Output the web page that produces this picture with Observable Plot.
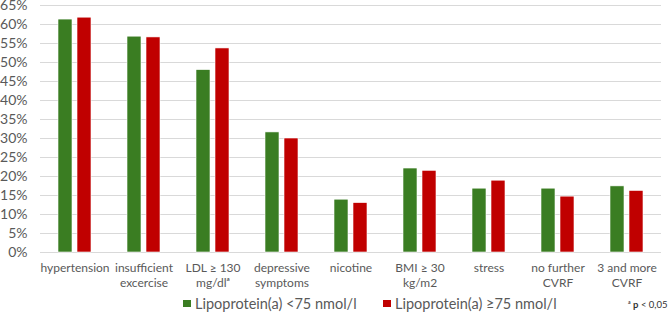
<!DOCTYPE html>
<html>
<head>
<meta charset="utf-8">
<script src="https://cdn.jsdelivr.net/npm/d3@7"></script>
<script src="https://cdn.jsdelivr.net/npm/@observablehq/plot@0.6"></script>
<style>
  html, body { margin: 0; padding: 0; background: #fff; }
  body { width: 669px; height: 312px; overflow: hidden; font-family: Lato, "Open Sans", sans-serif; }
  #chart svg { display: block; overflow: visible; }
  #legend { position: relative; height: 20px; font-size: 14.5px; color: #595959; }
  .item { position: absolute; top: 3px; display: flex; align-items: center; white-space: nowrap; }
  .sw { width: 8px; height: 7px; margin-right: 4px; }
  #note { position: absolute; left: 628px; top: 7px; font-size: 9.5px; color: #333; white-space: nowrap; }
</style>
</head>
<body>
<div id="chart"></div>
<div id="legend"></div>
<script>
const categories = ["hypertension", "insufficient excercise", "LDL ≥ 130 mg/dlᵃ", "depressive symptoms", "nicotine", "BMI ≥ 30 kg/m2", "stress", "no further CVRF", "3 and more CVRF"];
const categoryLabels = ["hypertension", "insufficient\nexcercise", "LDL ≥ 130\nmg/dlᵃ", "depressive\nsymptoms", "nicotine", "BMI ≥ 30\nkg/m2", "stress", "no further\nCVRF", "3 and more\nCVRF"];
const seriesNames = ["Lipoprotein(a) <75 nmol/l", "Lipoprotein(a) ≥75 nmol/l"];
const lowValues  = [61.3, 56.8, 48.0, 31.6, 13.9, 22.1, 16.8, 16.8, 17.4];
const highValues = [61.8, 56.6, 53.7, 30.0, 13.0, 21.5, 18.9, 14.7, 16.2];
const yTicks = d3.range(0, 66, 5);
const colors = ["#3a7d22", "#c00000"];

const data = [];
categories.forEach((c, i) => {
  data.push({category: c, series: seriesNames[0], value: lowValues[i]});
  data.push({category: c, series: seriesNames[1], value: highValues[i]});
});
const labelOf = new Map(categories.map((c, i) => [c, categoryLabels[i]]));

const plot = Plot.plot({
  width: 669,
  height: 292,
  marginTop: 5,
  marginLeft: 38,
  marginRight: 7,
  marginBottom: 40,
  style: {fontFamily: "Lato, 'Open Sans', sans-serif", fontSize: "12px", color: "#595959", background: "#fff", overflow: "visible"},
  fx: {domain: categories, padding: 0, label: null},
  x: {domain: seriesNames, paddingInner: 0.25, paddingOuter: 0.86, axis: null},
  y: {domain: [0, 65], label: null},
  color: {domain: seriesNames, range: colors},
  marks: [
    Plot.ruleY(yTicks, {stroke: "#d9d9d9", strokeWidth: 1}),
    Plot.barY(data, {fx: "category", x: "series", y: "value", fill: "series", stroke: "#fff", strokeWidth: 0.6}),
    Plot.axisFx({anchor: "bottom", tickSize: 0, tickPadding: 10, label: null, lineHeight: 1.17, fontSize: 12, fill: "#595959", tickFormat: d => labelOf.get(d)}),
    Plot.axisY({anchor: "left", ticks: yTicks, tickFormat: d => d + "%", tickSize: 0, tickPadding: 13, label: null, fontSize: 14, fill: "#595959"})
  ]
});
document.getElementById("chart").appendChild(plot);

const legend = document.getElementById("legend");
const positions = [183, 383];
seriesNames.forEach((s, i) => {
  const item = document.createElement("div");
  item.className = "item";
  item.style.left = positions[i] + "px";
  item.innerHTML = `<span class="sw" style="background:${colors[i]}"></span><span>${s}</span>`;
  legend.appendChild(item);
});
const note = document.createElement("div");
note.id = "note";
note.innerHTML = "ᵃ <b>p</b> &lt; 0,05";
legend.appendChild(note);
</script>
</body>
</html>
